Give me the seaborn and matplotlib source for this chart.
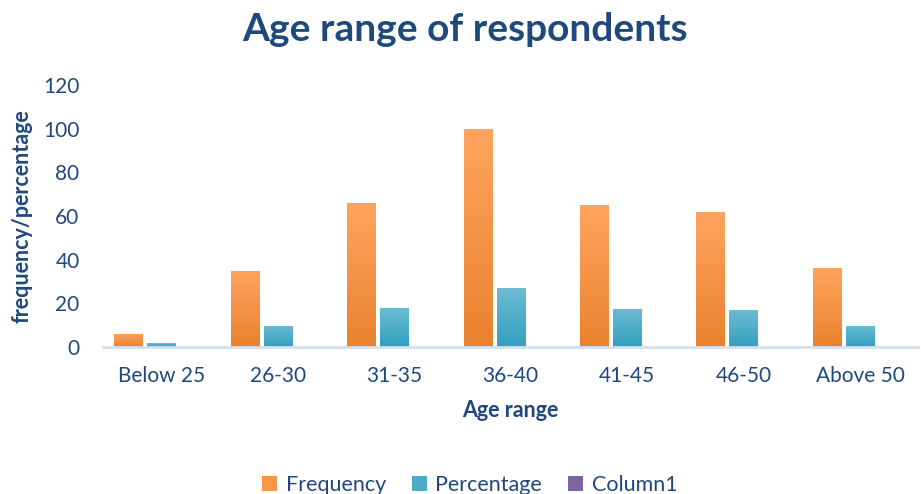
import numpy as np
import pandas as pd
import matplotlib
matplotlib.use("Agg")
import matplotlib.pyplot as plt
import matplotlib.colors as mcolors
from matplotlib.patches import Patch
import seaborn as sns

# Survey data: age ranges of respondents
age_ranges = ["Below 25", "26-30", "31-35", "36-40", "41-45", "46-50", "Above 50"]
frequency = [6, 35, 66, 100, 65, 62, 36]
percentage = [1.6, 9.5, 17.8, 27.0, 17.6, 16.8, 9.7]
column1 = [0, 0, 0, 0, 0, 0, 0]
series_names = ["Frequency", "Percentage", "Column1"]

df = pd.DataFrame({
    "Age range": age_ranges * 3,
    "value": frequency + percentage + column1,
    "series": [s for s in series_names for _ in age_ranges],
})

text_color = "#1F497D"
base_colors = ["#F79646", "#4BACC6", "#8064A2"]
top_colors = ["#FFA45E", "#6CBBD2", "#9A80BC"]
bottom_colors = ["#E9822F", "#33A0BE", "#6A4F8E"]

sns.set_theme(style="white")
plt.rcParams["font.family"] = ["Lato", "DejaVu Sans"]

fig = plt.figure(figsize=(9.21, 4.94), dpi=100)
ax = fig.add_axes([0.112, 0.2976, 0.885, 0.5304])

sns.barplot(data=df, x="Age range", y="value", hue="series",
            palette=base_colors, width=0.85, gap=0.14, ax=ax,
            legend=False, errorbar=None, saturation=1)

# Vertical gradient fill for each bar
for container, top, bot in zip(ax.containers, top_colors, bottom_colors):
    cmap = mcolors.LinearSegmentedColormap.from_list("g", [bot, top])
    grad = np.linspace(0, 1, 64).reshape(-1, 1)
    for bar in container:
        x0, y0 = bar.get_x(), bar.get_y()
        w, h = bar.get_width(), bar.get_height()
        if h <= 0:
            continue
        bar.set_facecolor("none")
        bar.set_edgecolor("none")
        im = ax.imshow(grad, cmap=cmap, origin="lower", aspect="auto",
                       extent=(x0, x0 + w, y0, y0 + h), zorder=2)
        im.set_clip_path(bar)

ax.set_xlim(-0.5, 6.5)
ax.set_ylim(0, 120)
ax.set_yticks(np.arange(0, 121, 20))

for side in ["top", "right", "left"]:
    ax.spines[side].set_visible(False)
ax.spines["bottom"].set_color("#D5DFEE")
ax.spines["bottom"].set_linewidth(2)

ax.tick_params(axis="x", length=0, pad=14, labelsize=15, labelcolor=text_color)
ax.tick_params(axis="y", length=0, pad=17, labelsize=15, labelcolor=text_color)

ax.set_xlabel("Age range", fontsize=15.5, fontweight="bold", color=text_color, labelpad=10)
ax.set_ylabel("frequency/percentage", fontsize=15.5, fontweight="bold", color=text_color, labelpad=8)

fig.suptitle("Age range of respondents", x=0.505, y=0.975, fontsize=28,
             fontweight="bold", color=text_color)

handles = [Patch(facecolor=c, edgecolor="none") for c in base_colors]
fig.legend(handles, series_names, loc="center", bbox_to_anchor=(0.51, 0.018),
           ncol=3, frameon=False, fontsize=15.5, labelcolor=text_color,
           handlelength=0.7, handleheight=0.7, handletextpad=0.4,
           columnspacing=1.2)

fig.savefig("out.png", dpi=100)
